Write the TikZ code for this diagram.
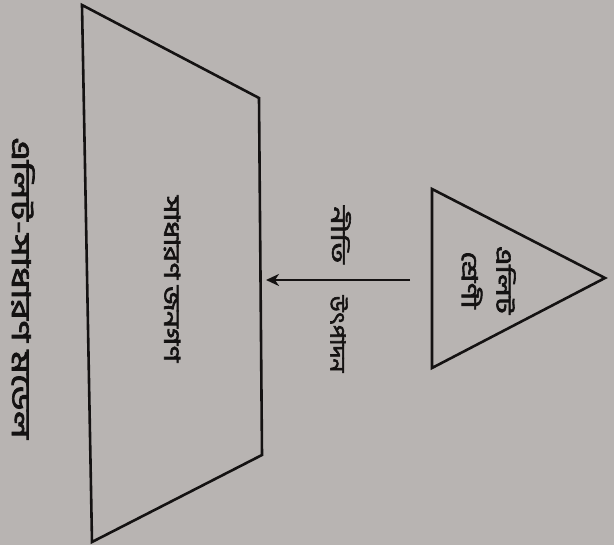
\documentclass[tikz,border=0pt]{standalone}
\usepackage{fontspec}
\usepackage{graphicx}
\newfontfamily\bn[Script=Bengali, AutoFakeBold=2.6]{Hind Siliguri}
\usetikzlibrary{arrows.meta}
\definecolor{paper}{RGB}{184,180,178}
\definecolor{ink}{RGB}{20,18,18}
\tikzset{
  shapeline/.style={draw=ink, line width=2.6pt, line join=miter},
  bntext/.style={text=ink, rotate=-90, inner sep=0pt},
  flowarrow/.style={draw=ink, line width=2.2pt, -{Stealth[length=13pt,width=12pt,inset=4pt]}}
}
\newcommand{\bnt}[3]{{\bn\bfseries\fontsize{#1}{#1}\selectfont\scalebox{#2}[1]{#3}}}
\begin{document}
\begin{tikzpicture}[x=1pt,y=1pt]
\fill[paper] (0,0) rectangle (614,545);
\useasboundingbox (0,0) rectangle (614,545);
% trapezoid (masses)
\coordinate (t1) at (82,540);
\coordinate (t2) at (259,447);
\coordinate (t3) at (262,90);
\coordinate (t4) at (92,3);
\draw[shapeline] (t1) -- (t2) -- (t3) -- (t4) -- cycle;
% triangle (elite)
\coordinate (e1) at (432,356);
\coordinate (e2) at (605,267);
\coordinate (e3) at (432,177);
\draw[shapeline] (e1) -- (e2) -- (e3) -- cycle;
% texts
\node[bntext] (elite1) at (506,265) {\bnt{22}{1.45}{এলিট}};
\node[bntext] (elite2) at (472,265) {\bnt{22}{1.45}{শ্রেণী}};
\node[bntext] (policy) at (341,310) {\bnt{21}{1.55}{নীতি}};
\node[bntext] (output) at (339,211) {\bnt{21}{1.17}{উৎপাদন}};
\node[bntext] (mass) at (172,266) {\bnt{22}{1.37}{সাধারণ জনগণ}};
\node[bntext] (caption) at (23,257) {\bnt{26}{1.5}{এলিট-সাধারণ মডেল}};
% arrow
\coordinate (arrS) at (410,265);
\coordinate (arrE) at (266,265);
\draw[flowarrow] (arrS) -- (arrE);
\end{tikzpicture}
\end{document}
